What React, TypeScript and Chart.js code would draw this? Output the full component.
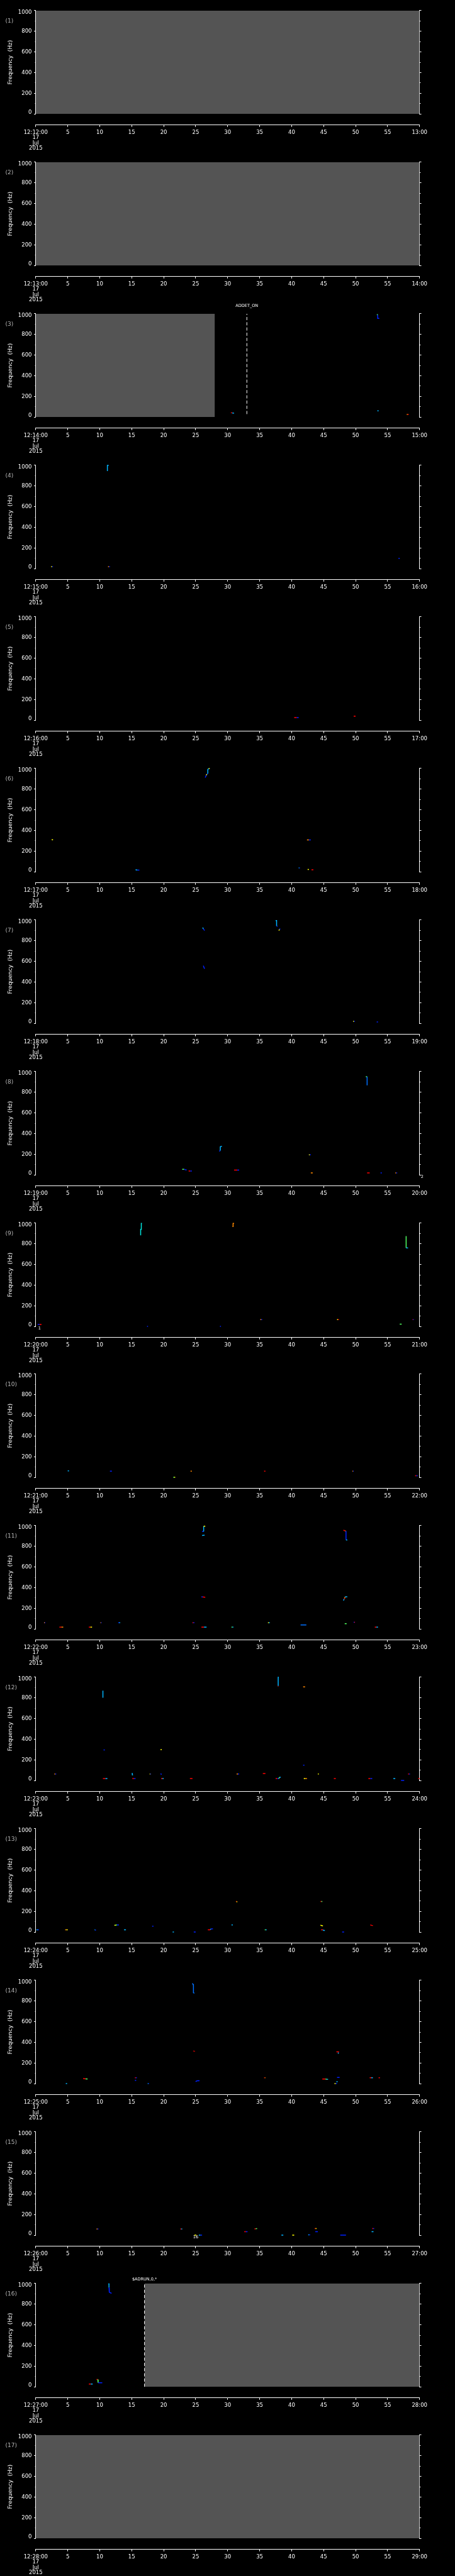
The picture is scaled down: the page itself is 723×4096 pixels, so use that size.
import React, { useEffect, useRef } from 'react';
import { Chart, registerables } from 'chart.js';

Chart.register(...registerables);

// ---------- data ----------
const panelNames = ['(1)', '(2)', '(3)', '(4)', '(5)', '(6)', '(7)', '(8)', '(9)', '(10)', '(11)', '(12)', '(13)', '(14)', '(15)', '(16)', '(17)'];
const startLabels = ['12:12:00', '12:13:00', '12:14:00', '12:15:00', '12:16:00', '12:17:00', '12:18:00', '12:19:00', '12:20:00', '12:21:00', '12:22:00', '12:23:00', '12:24:00', '12:25:00', '12:26:00', '12:27:00', '12:28:00'];
const endLabels = ['13:00', '14:00', '15:00', '16:00', '17:00', '18:00', '19:00', '20:00', '21:00', '22:00', '23:00', '24:00', '25:00', '26:00', '27:00', '28:00', '29:00'];
const dateLines = ['17', 'Jul', '2015'];
const timeStep = 5;
const freqMajorStep = 200;
const freqMinorStep = 50;
const freqMax = 1000;
const timeMax = 60;

// no-data (grey) spans per panel, seconds
const greyStart = [0, 0, 0, null, null, null, null, null, null, null, null, null, null, null, null, 17, 0];
const greyEnd = [60, 60, 28, null, null, null, null, null, null, null, null, null, null, null, null, 60, 60];

// event markers
const eventPanels = [3, 16];
const eventTimes = [33, 17];
const eventLabels = ['ADDET_ON', '$ADRUN,0,*'];
const eventLow = [29, 0];

// small annotations under the plots
const notePanels = [8, 9, 15];
const noteTimes = [60.4, 0.6, 25.0];
const noteTexts = ['2', '1', '16'];

// detected traces: [segment colour codes, t0, f0, t1, f1, ...]  (t in s, f in Hz)
const marks03 = [
  ['GBB', 53.4, 997, 53.4, 985, 53.45, 985, 53.45, 955, 53.7, 955],
  ['RC', 30.5, 43, 30.7, 40, 31.0, 38],
  ['C', 53.4, 60, 53.6, 60],
  ['OR', 58.0, 25, 58.15, 25, 58.3, 25],
];
const marks04 = [
  ['C', 11.4, 1000, 11.2, 1000, 11.2, 945],
  ['YB', 2.4, 19, 2.55, 19, 2.7, 19],
  ['OB', 11.3, 19, 11.45, 19, 11.6, 19],
  ['B', 56.7, 100, 56.9, 98],
];
const marks05 = [
  ['RB', 40.4, 26, 40.8, 26, 41.1, 26],
  ['R', 49.7, 39, 50.0, 39],
];
const marks06 = [
  ['BYBCCY', 26.5, 911, 26.65, 935, 26.75, 945, 26.9, 950, 26.9, 990, 27.05, 1000, 27.2, 1000],
  ['Y', 2.5, 311, 2.7, 308],
  ['OB', 42.4, 309, 42.7, 309, 43.0, 309],
  ['CB', 15.6, 19, 15.9, 17, 16.2, 16],
  ['CB', 41.1, 37, 41.2, 37, 41.3, 36],
  ['Y', 42.5, 23, 42.7, 23],
  ['R', 43.1, 19, 43.4, 19],
];
const marks07 = [
  ['CB', 26.1, 927, 26.2, 915, 26.4, 898],
  ['CCB', 37.5, 995, 37.65, 995, 37.65, 942, 37.8, 940],
  ['YB', 38.0, 898, 38.1, 908, 38.2, 917],
  ['B', 26.2, 558, 26.3, 540, 26.4, 529],
  ['YB', 49.6, 19, 49.75, 19, 49.9, 19],
  ['B', 53.3, 13, 53.5, 13],
];
const marks08 = [
  ['GL', 51.6, 951, 51.8, 951, 51.8, 867],
  ['BBCCC', 28.7, 227, 28.75, 232, 28.85, 235, 28.85, 272, 29.0, 277, 29.1, 277],
  ['YB', 42.7, 194, 42.85, 195, 43.0, 196],
  ['GBB', 22.9, 55, 23.2, 55, 23.4, 50, 23.6, 49],
  ['RB', 23.9, 37, 24.15, 37, 24.4, 37],
  ['RB', 31.0, 47, 31.5, 47, 31.8, 47],
  ['O', 43.0, 19, 43.3, 19],
  ['R', 51.8, 19, 52.2, 19],
  ['B', 53.9, 19, 54.1, 19],
  ['OB', 56.2, 19, 56.35, 19, 56.5, 19],
];
const marks09 = [
  ['T', 16.6, 998, 16.5, 998, 16.5, 940, 16.4, 940, 16.4, 882],
  ['O', 31.0, 998, 30.85, 998, 30.85, 967, 30.75, 967],
  ['GC', 57.9, 874, 57.9, 760, 58.2, 760],
  ['BR', 0.3, 19, 0.6, 19, 0.9, 19],
  ['B', 17.4, 1, 17.55, 1],
  ['B', 28.8, 1, 28.95, 1],
  ['OB', 35.1, 66, 35.25, 66, 35.4, 66],
  ['YR', 47.1, 66, 47.25, 66, 47.4, 66],
  ['G', 56.9, 23, 57.2, 23],
  ['RB', 58.9, 66, 59.0, 66, 59.1, 66],
];
const marks10 = [
  ['C', 5.0, 63, 5.2, 63],
  ['B', 11.6, 60, 11.9, 60],
  ['O', 24.2, 60, 24.4, 60],
  ['GY', 21.5, 1, 21.65, 1, 21.8, 1],
  ['R', 35.7, 60, 35.9, 60],
  ['OB', 49.5, 60, 49.6, 60, 49.7, 60],
  ['RB', 59.3, 16, 59.5, 16, 59.7, 16],
];
const marks11 = [
  ['BCY', 26.0, 945, 26.25, 943, 26.25, 995, 26.5, 995],
  ['C', 26.0, 905, 26.4, 908],
  ['ROBC', 48.1, 957, 48.35, 950, 48.5, 947, 48.5, 863, 48.7, 861],
  ['BR', 25.9, 312, 26.1, 310, 26.5, 307],
  ['CROC', 48.1, 275, 48.2, 290, 48.3, 298, 48.35, 311, 48.7, 311],
  ['OB', 1.3, 60, 1.4, 60, 1.5, 60],
  ['RO', 3.7, 18, 4.0, 18, 4.3, 18],
  ['RY', 8.3, 18, 8.55, 18, 8.8, 18],
  ['OB', 10.1, 60, 10.2, 60, 10.3, 60],
  ['BC', 12.9, 60, 13.05, 60, 13.2, 60],
  ['RB', 24.5, 60, 24.65, 60, 24.8, 60],
  ['RC', 25.9, 18, 26.3, 18, 26.7, 18],
  ['GC', 30.6, 18, 30.75, 18, 30.9, 18],
  ['YC', 36.3, 60, 36.45, 60, 36.6, 60],
  ['L', 41.4, 39, 42.3, 39],
  ['G', 48.3, 52, 48.6, 52],
  ['BR', 49.7, 65, 49.8, 65, 49.9, 65],
  ['RC', 53.0, 18, 53.25, 18, 53.5, 18],
];
const marks12 = [
  ['C', 10.5, 870, 10.5, 801],
  ['CCR', 38.0, 1000, 37.9, 1000, 37.9, 915, 37.85, 911],
  ['O', 41.8, 906, 42.1, 906],
  ['B', 10.6, 296, 10.8, 296],
  ['Y', 19.5, 299, 19.7, 299],
  ['B', 41.8, 149, 42.0, 149],
  ['OB', 2.9, 63, 3.05, 63, 3.2, 63],
  ['C', 15.0, 68, 15.1, 68, 15.1, 55, 15.2, 55],
  ['YB', 17.8, 63, 17.9, 63, 18.0, 63],
  ['B', 19.5, 66, 19.6, 62, 19.7, 62],
  ['OB', 31.4, 63, 31.6, 63, 31.8, 63],
  ['R', 35.5, 68, 35.9, 68],
  ['Y', 44.1, 63, 44.25, 63],
  ['RB', 58.2, 63, 58.35, 63, 58.5, 63],
  ['RC', 10.5, 19, 10.9, 19, 11.2, 19],
  ['RB', 15.1, 19, 15.35, 19, 15.6, 19],
  ['RC', 19.6, 19, 19.8, 19, 20.0, 19],
  ['R', 24.1, 19, 24.5, 19],
  ['RBGC', 37.5, 19, 37.75, 19, 38.0, 19, 38.1, 32, 38.3, 32],
  ['YO', 41.9, 19, 42.15, 19, 42.4, 19],
  ['R', 46.6, 19, 46.9, 19],
  ['RB', 52.0, 19, 52.3, 19, 52.6, 19],
  ['C', 55.9, 19, 56.2, 19],
  ['B', 57.1, 1, 57.6, 1],
  ['R', 59.8, 19, 60, 19],
];
const marks13 = [
  ['RY', 31.3, 299, 31.4, 295, 31.5, 291],
  ['RG', 44.5, 296, 44.65, 296, 44.8, 296],
  ['CB', 0.1, 23, 0.3, 23, 0.5, 23],
  ['OY', 4.6, 23, 4.8, 23, 5.0, 23],
  ['CB', 9.2, 23, 9.3, 23, 9.4, 16],
  ['YGB', 12.3, 65, 12.5, 68, 12.7, 70, 13.0, 70],
  ['C', 13.8, 23, 14.1, 23],
  ['B', 18.2, 57, 18.4, 57],
  ['C', 21.4, 1, 21.6, 1],
  ['B', 24.7, 1, 25.0, 1],
  ['RCB', 26.9, 23, 27.3, 23, 27.4, 32, 27.7, 32],
  ['C', 30.6, 70, 30.8, 70],
  ['GC', 35.8, 23, 35.95, 23, 36.1, 23],
  ['Y', 44.5, 66, 44.7, 64, 44.9, 60],
  ['RCC', 44.6, 23, 44.9, 23, 45.0, 16, 45.2, 16],
  ['B', 47.9, 1, 48.2, 1],
  ['R', 52.3, 70, 52.5, 66, 52.7, 63],
];
const marks14 = [
  ['L', 24.5, 972, 24.6, 958, 24.65, 958, 24.65, 880, 24.8, 875],
  ['D', 24.6, 316, 24.9, 313],
  ['R', 47.0, 309, 47.4, 309],
  ['C', 47.3, 303, 47.3, 290],
  ['RG', 7.4, 50, 7.8, 47, 8.1, 45],
  ['RB', 15.5, 58, 15.65, 58, 15.8, 58],
  ['B', 15.5, 32, 15.7, 32],
  ['B', 25.0, 19, 25.1, 25, 25.3, 29, 25.6, 29],
  ['C', 4.7, 1, 4.9, 1],
  ['CB', 17.5, 1, 17.6, 1, 17.7, 1],
  ['RO', 35.7, 58, 35.8, 58, 35.9, 58],
  ['RGC', 44.8, 45, 45.3, 45, 45.5, 42, 45.7, 42],
  ['B', 47.1, 61, 47.5, 61],
  ['C', 47.0, 19, 47.2, 19],
  ['YB', 46.7, 1, 46.9, 1, 47.1, 1],
  ['RC', 52.2, 58, 52.45, 58, 52.7, 58],
  ['R', 53.6, 58, 53.8, 58],
];
const marks15 = [
  ['OB', 9.5, 60, 9.65, 60, 9.8, 60],
  ['RC', 22.6, 60, 22.75, 60, 22.9, 60],
  ['Y', 24.8, 1, 25.1, 1],
  ['CB', 25.5, 1, 25.75, 1, 26.0, 1],
  ['RB', 32.6, 34, 32.85, 34, 33.1, 34],
  ['RG', 34.2, 60, 34.4, 63, 34.6, 65],
  ['C', 38.4, 1, 38.7, 1],
  ['Y', 40.1, 1, 40.4, 1],
  ['CB', 42.6, 5, 42.75, 5, 42.9, 5],
  ['RY', 43.6, 65, 43.75, 65, 43.9, 65],
  ['B', 43.7, 34, 44.1, 34],
  ['B', 47.6, 1, 48.5, 1],
  ['RB', 52.6, 65, 52.75, 65, 52.9, 65],
  ['C', 52.5, 34, 52.8, 34],
];
const marks16 = [
  ['CCBBB', 11.35, 997, 11.45, 997, 11.45, 960, 11.5, 960, 11.5, 915, 11.85, 905],
  ['RC', 8.3, 27, 8.6, 27, 8.9, 27],
  ['RGB', 9.5, 71, 9.7, 71, 9.75, 40, 10.4, 40],
];
const panelMarks = [[], [], marks03, marks04, marks05, marks06, marks07, marks08, marks09, marks10, marks11, marks12, marks13, marks14, marks15, marks16, []];

// ---------- styling / geometry ----------
const COLORS: Record<string, string> = {
  B: '#0020ff', L: '#0070ff', C: '#00b4ff', T: '#00e8e0', G: '#50ff60',
  Y: '#ffff00', O: '#ff8800', R: '#ff0000', D: '#b00000',
};
const W = 723;
const PANEL_H = 4096 / 17;
const CH = 241;
const AREA_LEFT = 56.8;
const AREA_RIGHT_PAD = 56.3;
const AREA_TOP = 16.9;
const AREA_BOTTOM = 181.2;
const TIME_AXIS_Y = 198.4;
const AXIS_VALUE = -((TIME_AXIS_Y - AREA_BOTTOM) / (AREA_BOTTOM - AREA_TOP)) * freqMax;
const FONT = '"DejaVu Sans", sans-serif';
const GREY = '#545454';

function traceDataset(tr: any[]) {
  const codes: string = tr[0];
  const nums: number[] = tr.slice(1);
  const pts: { x: number; y: number }[] = [];
  for (let i = 0; i < nums.length; i += 2) pts.push({ x: nums[i], y: nums[i + 1] });
  const cols = pts.slice(1).map((_, i) => COLORS[codes[Math.min(i, codes.length - 1)]]);
  return {
    type: 'line',
    data: pts,
    borderColor: cols[0],
    borderWidth: 1.5,
    pointRadius: 0,
    fill: false,
    tension: 0,
    clip: 2,
    order: 0,
    segment: { borderColor: (ctx: any) => cols[ctx.p0DataIndex] },
  };
}

const textPlugin = {
  id: 'panelText',
  afterDraw(chart: any, _args: any, opts: any) {
    const { ctx, scales, chartArea } = chart;
    ctx.save();
    ctx.fillStyle = '#b4b4b4';
    ctx.font = `9px ${FONT}`;
    ctx.textAlign = 'left';
    ctx.textBaseline = 'middle';
    ctx.fillText(opts.name, 8.5, 33.2);
    ctx.fillStyle = '#ffffff';
    ctx.textAlign = 'center';
    ctx.font = `6.5px ${FONT}`;
    (opts.events || []).forEach((e: any) => {
      ctx.fillText(e.label, scales.x.getPixelForValue(e.t), e.labelY);
    });
    (opts.notes || []).forEach((n: any) => {
      ctx.fillText(n.text, scales.x.getPixelForValue(n.t), chartArea.bottom + 3.5);
    });
    ctx.restore();
  },
};

function buildConfig(i: number): any {
  const datasets: any[] = [];
  if (greyStart[i] !== null) {
    datasets.push({
      type: 'line',
      data: [{ x: greyStart[i], y: freqMax }, { x: greyEnd[i], y: freqMax }],
      fill: 'origin',
      backgroundColor: GREY,
      borderWidth: 0,
      borderColor: GREY,
      pointRadius: 0,
      order: 10,
    });
  }
  const events: any[] = [];
  eventPanels.forEach((p, k) => {
    if (p === i + 1) {
      datasets.push({
        type: 'line',
        data: [{ x: eventTimes[k], y: eventLow[k] }, { x: eventTimes[k], y: freqMax }],
        borderColor: '#ffffff',
        borderWidth: 1,
        borderDash: [5, 3.3],
        pointRadius: 0,
        fill: false,
        order: 1,
      });
      events.push({ t: eventTimes[k], label: eventLabels[k], labelY: k === 0 ? 4.7 : 10.8 });
    }
  });
  const notes: any[] = [];
  notePanels.forEach((p, k) => {
    if (p === i + 1) notes.push({ t: noteTimes[k], text: noteTexts[k] });
  });
  panelMarks[i].forEach((tr: any) => datasets.push(traceDataset(tr)));

  const tickFont = { family: FONT, size: 8.5, lineHeight: 1.0 };
  const axisGrid = { drawOnChartArea: false, color: '#ffffff', lineWidth: 1 };
  return {
    type: 'line',
    data: { datasets },
    plugins: [textPlugin],
    options: {
      animation: false,
      responsive: false,
      maintainAspectRatio: false,
      devicePixelRatio: 1,
      events: [],
      layout: { padding: { left: 0, right: 0, top: AREA_TOP, bottom: CH - AREA_BOTTOM } },
      plugins: {
        legend: { display: false },
        tooltip: { enabled: false },
        panelText: { name: panelNames[i], events, notes },
      },
      scales: {
        y: {
          type: 'linear',
          position: 'left',
          min: 0,
          max: freqMax,
          z: 1,
          ticks: {
            stepSize: freqMajorStep,
            color: '#ffffff',
            font: { family: FONT, size: 8.5, lineHeight: '5.6px' },
            padding: 3.5,
            callback: (v: number) => (v === freqMax ? ['', String(v)] : v === 0 ? [String(v), ''] : String(v)),
          },
          grid: { ...axisGrid, tickLength: 2.8 },
          border: { color: '#ffffff', width: 1 },
          title: {
            display: true,
            text: 'Frequency  (Hz)',
            color: '#ffffff',
            font: { family: FONT, size: 9, lineHeight: 1.2 },
            padding: { top: 10.8, bottom: 0 },
          },
          afterFit: (s: any) => { s.width = AREA_LEFT; },
        },
        yLm: {
          type: 'linear',
          position: { x: 0 },
          min: 0,
          max: freqMax,
          z: 1,
          ticks: { stepSize: freqMinorStep, callback: () => '', font: tickFont },
          grid: { ...axisGrid, tickLength: 1.4 },
          border: { display: false },
        },
        yR: {
          type: 'linear',
          position: 'right',
          min: 0,
          max: freqMax,
          z: 1,
          ticks: { stepSize: freqMajorStep, callback: () => '', font: tickFont },
          grid: { ...axisGrid, tickLength: 2.8 },
          border: { color: '#ffffff', width: 1 },
          afterFit: (s: any) => { s.width = AREA_RIGHT_PAD; },
        },
        yRm: {
          type: 'linear',
          position: { x: timeMax },
          min: 0,
          max: freqMax,
          z: 1,
          ticks: { stepSize: freqMinorStep, callback: () => '', font: tickFont },
          grid: { ...axisGrid, tickLength: -1.4 },
          border: { display: false },
        },
        x: {
          type: 'linear',
          position: { y: AXIS_VALUE },
          min: 0,
          max: timeMax,
          z: 1,
          ticks: {
            stepSize: timeStep,
            autoSkip: false,
            maxRotation: 0,
            minRotation: 0,
            color: '#ffffff',
            font: tickFont,
            padding: 5,
            callback: (v: number) => (v === 0 ? [startLabels[i], ...dateLines] : v === timeMax ? endLabels[i] : String(v)),
          },
          grid: { ...axisGrid, tickLength: 2.8 },
          border: { color: '#ffffff', width: 1 },
        },
      },
    },
  };
}

function Panel({ index }: { index: number }) {
  const ref = useRef<HTMLCanvasElement>(null);
  useEffect(() => {
    const chart = new Chart(ref.current as HTMLCanvasElement, buildConfig(index));
    return () => chart.destroy();
  }, [index]);
  return (
    <canvas
      ref={ref}
      width={W}
      height={CH}
      style={{ position: 'absolute', left: 0, top: Math.round(index * PANEL_H), width: W, height: CH, display: 'block' }}
    />
  );
}

export default function App() {
  useEffect(() => {
    document.body.style.margin = '0';
    document.body.style.background = '#000';
  }, []);
  return (
    <div style={{ position: 'relative', width: W, height: 4096, background: '#000', overflow: 'hidden' }}>
      {panelNames.map((_, i) => (
        <Panel key={i} index={i} />
      ))}
    </div>
  );
}
